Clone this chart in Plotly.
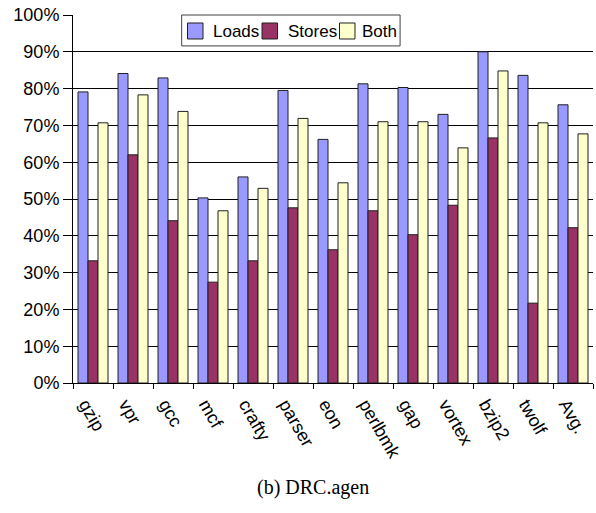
import plotly.graph_objects as go

benchmarks = ["gzip", "vpr", "gcc", "mcf", "crafty", "parser", "eon",
              "perlbmk", "gap", "vortex", "bzip2", "twolf", "Avg."]
loads = [0.791, 0.841, 0.829, 0.503, 0.560, 0.795, 0.662, 0.813, 0.803, 0.730, 0.900, 0.836, 0.756]
stores = [0.332, 0.620, 0.441, 0.274, 0.332, 0.476, 0.362, 0.468, 0.403, 0.483, 0.666, 0.217, 0.422]
both = [0.707, 0.783, 0.738, 0.468, 0.529, 0.719, 0.544, 0.710, 0.710, 0.639, 0.848, 0.707, 0.677]

series_names = ["Loads", "Stores", "Both"]
series_colors = ["#9999FF", "#993366", "#FFFFCC"]
series_values = [loads, stores, both]

fig = go.Figure()
for name, vals, color in zip(series_names, series_values, series_colors):
    fig.add_trace(go.Bar(
        x=benchmarks, y=vals, name=name, showlegend=False,
        marker=dict(color=color, line=dict(color="#202020", width=1)),
    ))

# Boxed legend drawn in paper coordinates, overlapping the top of the plot
shapes = [dict(type="rect", xref="paper", yref="paper",
               x0=0.209, x1=0.629, y0=0.916, y1=1.0,
               fillcolor="white", line=dict(color="#404040", width=1), layer="above")]
annotations = []
swatch_x = [0.2202, 0.3635, 0.5125]
label_x = [0.2654, 0.4090, 0.5519]
for name, color, sx, lx in zip(series_names, series_colors, swatch_x, label_x):
    shapes.append(dict(type="rect", xref="paper", yref="paper",
                       x0=sx, x1=sx + 0.0298, y0=0.9348, y1=0.9783,
                       fillcolor=color, line=dict(color="#202020", width=1), layer="above"))
    annotations.append(dict(text=name, x=lx, xref="paper", xanchor="left",
                            y=0.9552, yref="paper", yanchor="middle", showarrow=False,
                            font=dict(size=17)))

annotations.append(dict(
    text="(b) DRC.agen", x=0.462, xref="paper", xanchor="center",
    y=-0.283, yref="paper", yanchor="middle", showarrow=False,
    font=dict(family="Liberation Serif, Times New Roman", size=20),
))

fig.update_layout(
    width=596, height=513,
    margin=dict(l=73, r=3, t=15, b=130),
    paper_bgcolor="white", plot_bgcolor="white",
    barmode="group", bargap=0.25, bargroupgap=0,
    font=dict(family="Liberation Sans, Arial", size=17, color="black"),
    showlegend=False,
    shapes=shapes, annotations=annotations,
)
fig.update_yaxes(
    range=[0, 1], dtick=0.1, tickformat=".0%",
    showgrid=True, gridcolor="black", gridwidth=1,
    showline=True, linecolor="black", linewidth=1,
    ticks="outside", ticklen=9, tickcolor="black",
    tickfont=dict(size=18),
)
fig.update_xaxes(
    type="category", tickangle=60, tickson="boundaries",
    showline=True, linecolor="black", linewidth=1,
    ticks="outside", ticklen=5, tickcolor="black",
    tickfont=dict(size=18), ticklabelshift=-7, ticklabelstandoff=3,
)

fig.write_html("out.html")
